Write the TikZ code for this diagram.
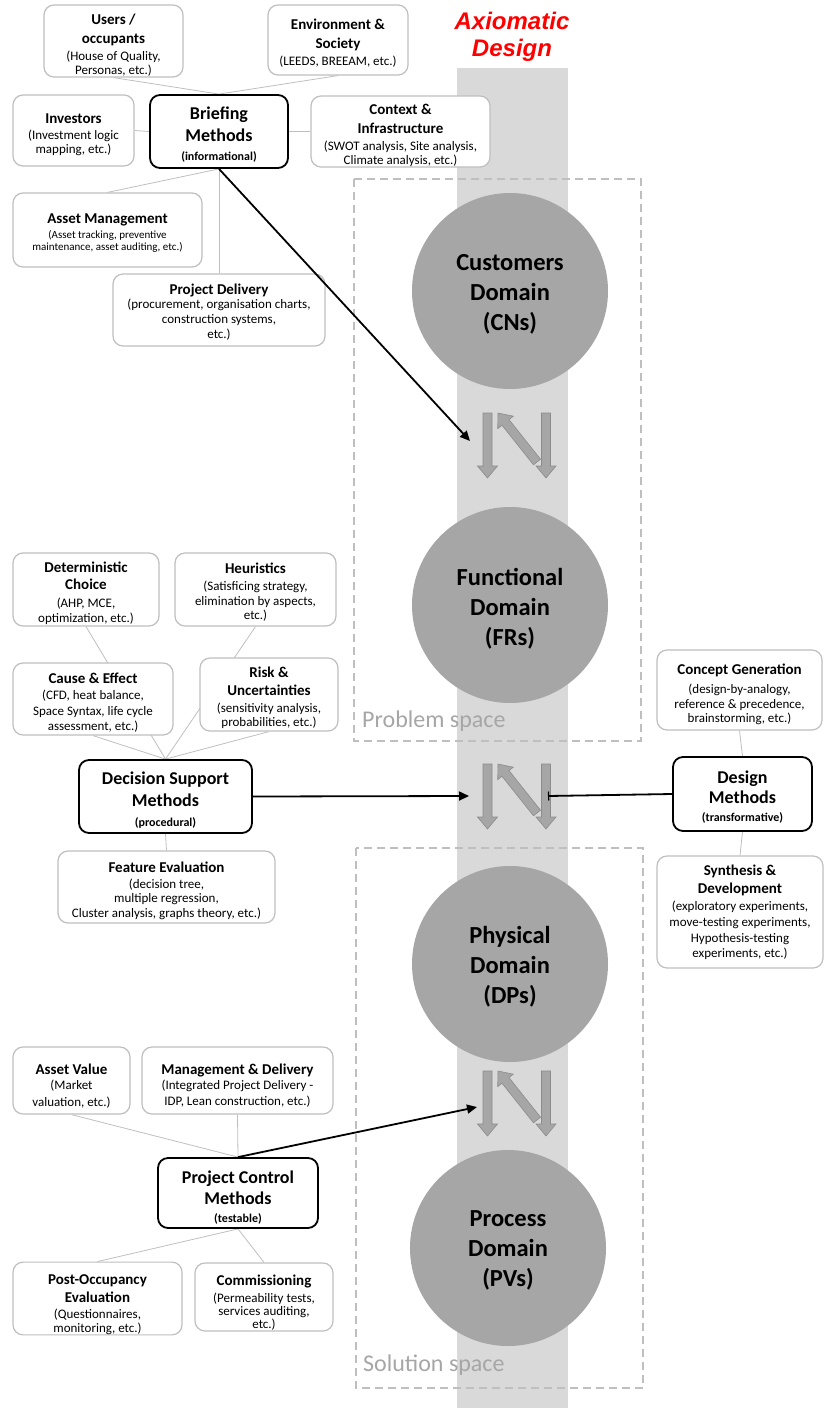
\documentclass[tikz,border=0pt]{standalone}
\usepackage{fontspec}
\setmainfont{Carlito}
\newfontfamily\arialfont{Liberation Sans}
\usetikzlibrary{arrows.meta,calc}
\definecolor{boxgray}{HTML}{BFBFBF}
\definecolor{bandgray}{HTML}{D9D9D9}
\definecolor{circgray}{HTML}{A6A6A6}
\definecolor{arrfill}{HTML}{A6A6A6}
\definecolor{arrdraw}{HTML}{8C8C8C}
\definecolor{spacetxt}{HTML}{A6A6A6}
\definecolor{axred}{HTML}{FF0000}
\pgfdeclarelayer{back}\pgfdeclarelayer{mid}\pgfsetlayers{back,mid,main}
\newcommand\ttl[1]{{\fontsize{15}{19}\selectfont\bfseries #1}}
\newcommand\smalltxt[1]{{\fontsize{11}{12}\selectfont #1}}
\newcommand\msub[1]{{\fontsize{12}{14}\selectfont\bfseries #1}}
\newcommand\up[1]{\rule{0pt}{#1pt}}
\newcommand\blockarr[4]{%
  \begin{scope}[shift={(#1,#2)},rotate=#3]
    \filldraw[fill=arrfill,draw=arrdraw,line width=0.6pt]
      (0,-4.5) -- (#4-12,-4.5) -- (#4-12,-10) -- (#4,0) -- (#4-12,10) -- (#4-12,4.5) -- (0,4.5) -- cycle;
  \end{scope}}
\newcommand\arrgroup[1]{%
  \blockarr{487.5}{#1}{-90}{65}
  \blockarr{546}{#1}{-90}{65}
  \blockarr{537}{#1+49}{128.5}{62.6}}
\tikzset{
  sbox/.style={draw=boxgray, line width=1.2pt, rounded corners=10pt, fill=white, align=center, inner sep=0pt,
    font=\fontsize{13}{14}\selectfont},
  mbox/.style={draw=black, line width=1.8pt, rounded corners=10pt, fill=white, align=center, inner sep=0pt,
    font=\fontsize{18}{22}\selectfont\bfseries},
  dom/.style={circle, fill=circgray, minimum size=196pt, inner sep=0pt, align=center,
    font=\fontsize{24.5}{30}\selectfont\bfseries},
  conn/.style={draw=boxgray, line width=0.8pt},
  bigarr/.style={draw=black, line width=1.8pt, -{Triangle[length=10pt,width=9pt]}},
  bigbar/.style={draw=black, line width=1.8pt, -{Bar[width=9pt,line width=1.2pt]}},
  spacelbl/.style={anchor=west, inner sep=0pt, text=spacetxt, font=\fontsize{24}{28}\selectfont},
}
\begin{document}
\lineskiplimit=-100pt\relax
\begin{tikzpicture}[x=1pt,y=-1pt]
\useasboundingbox (0,0) rectangle (823,1408);

\begin{pgfonlayer}{back}
  \fill[bandgray] (457,68) rectangle (568,1408);
  \draw[boxgray, line width=1.5pt, dash pattern=on 8pt off 5pt] (354,179) rectangle (641,741);
  \draw[boxgray, line width=1.5pt, dash pattern=on 8pt off 5pt] (356,848) rectangle (643,1388);
  \arrgroup{413}
  \arrgroup{764}
  \arrgroup{1071}
\end{pgfonlayer}

% title
\node[text=axred, align=center, inner sep=0pt, font=\arialfont\bfseries\itshape\fontsize{24}{27}\selectfont] (axd) at (512,37) {Axiomatic\\Design};

% domains
\node[dom] (cn) at (510,291) {\up{23.5}Customers\\Domain\\(CNs)};
\node[dom] (fr) at (510,605) {\up{25}Functional\\Domain\\(FRs)};
\node[dom] (dp) at (510,964) {\up{23}Physical\\Domain\\(DPs)};
\node[dom] (pv) at (508,1248) {\up{21.5}Process\\Domain\\(PVs)};

\node[spacelbl] (ps) at (362,721) {Problem space};
\node[spacelbl] (ss) at (363,1365) {Solution space};

% briefing cluster
\node[sbox, minimum width=139pt, minimum height=72pt] (users) at (113.5,41)
  {\ttl{\up{18.5}Users /}\\[5pt]\ttl{occupants}\\[3pt](House of Quality,\\Personas, etc.)};
\node[sbox, minimum width=140pt, minimum height=70pt] (env) at (338,40)
  {\ttl{\up{16.5}Environment \&}\\[5pt]\ttl{Society}\\[3pt](LEEDS, BREEAM, etc.)};
\node[sbox, minimum width=121pt, minimum height=71pt] (inv) at (73.5,130.5)
  {\ttl{\up{18.5}Investors}\\[2pt](Investment logic\\mapping, etc.)};
\node[mbox, minimum width=138pt, minimum height=73pt] (brief) at (219,131.5)
  {\up{18.6}Briefing\\Methods\\[-3pt]\msub{(informational)}};
\node[sbox, minimum width=179pt, minimum height=71pt] (ctx) at (400.5,131.5)
  {\ttl{\up{18.5}Context \&}\\[5pt]\ttl{Infrastructure}\\[3pt](SWOT analysis, Site analysis,\\Climate analysis, etc.)};
\node[sbox, minimum width=189pt, minimum height=74pt] (am) at (107.5,230)
  {\ttl{\up{16.5}Asset Management}\\[1pt]\smalltxt{(Asset tracking, preventive}\\[-2pt]\smalltxt{maintenance, asset auditing, etc.)}};
\node[sbox, minimum width=212pt, minimum height=72pt] (pd) at (219,310)
  {\ttl{\up{14.5}Project Delivery}\\(procurement, organisation charts,\\[1.5pt]construction systems,\\[1pt]etc.)};

% decision support cluster
\node[sbox, minimum width=146pt, minimum height=73pt] (detc) at (86,589.5)
  {\ttl{\up{18.5}Deterministic}\\[3pt]\ttl{Choice}\\[4pt](AHP, MCE,\\[1pt]optimization, etc.)};
\node[sbox, minimum width=161pt, minimum height=73pt] (heur) at (255.5,589.5)
  {\ttl{\up{16.5}Heuristics}\\[3pt](Satisficing strategy,\\[1pt]elimination by aspects,\\etc.)};
\node[sbox, minimum width=160pt, minimum height=72pt] (ce) at (93,699)
  {\ttl{\up{18.5}Cause \& Effect}\\[2pt](CFD, heat balance,\\[2pt]Space Syntax, life cycle\\[1pt]assessment, etc.)};
\node[sbox, minimum width=138pt, minimum height=73pt] (risk) at (269,694.5)
  {\ttl{\up{16.5}Risk \&}\\[4pt]\ttl{Uncertainties}\\[3pt](sensitivity analysis,\\probabilities, etc.)};
\node[mbox, minimum width=173pt, minimum height=73pt] (dsm) at (165.5,796.5)
  {\up{20.6}Decision Support\\Methods\\[-2pt]\msub{(procedural)}};
\node[sbox, minimum width=217pt, minimum height=72pt] (fe) at (166.5,887)
  {\ttl{\up{18.5}Feature Evaluation}\\[2pt](decision tree,\\multiple regression,\\[1pt]Cluster analysis, graphs theory, etc.)};

% design cluster
\node[sbox, minimum width=165pt, minimum height=80pt] (cg) at (739.5,690)
  {\ttl{\up{18.5}Concept Generation}\\[5pt](design-by-analogy,\\[1pt]reference \& precedence,\\brainstorming,  etc.)};
\node[mbox, minimum width=139pt, minimum height=74pt] (dm) at (742.5,794)
  {\up{18.6}Design\\[-2pt]Methods\\[-4pt]\msub{(transformative)}};
\node[sbox, minimum width=166pt, minimum height=112pt] (sd) at (740,912)
  {\ttl{Synthesis \&}\\[4pt]\ttl{Development}\\[3pt](exploratory experiments,\\[2pt]move-testing experiments,\\[2pt]Hypothesis-testing\\[1pt]experiments, etc.)};

% project control cluster
\node[sbox, minimum width=117pt, minimum height=67pt] (av) at (71.5,1080.5)
  {\ttl{\up{22.5}Asset Value}\\[1pt](Market\\[3pt]valuation, etc.)};
\node[sbox, minimum width=191pt, minimum height=67pt] (md) at (237.5,1080.5)
  {\ttl{\up{20.5}Management \& Delivery}\\[1pt](Integrated Project Delivery -\\[2pt]IDP, Lean construction, etc.)};
\node[mbox, minimum width=160pt, minimum height=70pt] (pcm) at (238,1193)
  {\up{22.6}Project Control\\[-1pt]Methods\\[-4pt]\msub{(testable)}};
\node[sbox, minimum width=169pt, minimum height=69pt] (poe) at (97.5,1298.5)
  {\ttl{\up{22.5}Post-Occupancy}\\[4pt]\ttl{Evaluation}\\[2pt](Questionnaires,\\monitoring, etc.)};
\node[sbox, minimum width=138pt, minimum height=68pt] (com) at (264,1297)
  {\ttl{\up{22.5}Commissioning}\\[3pt](Permeability tests,\\[-1pt]services auditing,\\[-1pt]etc.)};

% thin connectors
\begin{pgfonlayer}{mid}
  \draw[conn] (users.south) -- (brief.north);
  \draw[conn] (env.south) -- (brief.north);
  \draw[conn] (inv.east) -- (brief.west);
  \draw[conn] (brief.east) -- (ctx.west);
  \draw[conn] (brief.south) -- (am.north);
  \draw[conn] (brief.south) -- (pd.north);
  \draw[conn] (detc.south) -- (dsm.north);
  \draw[conn] (heur.south) -- (dsm.north);
  \draw[conn] (ce.south) -- (dsm.north);
  \draw[conn] (risk.south) -- (dsm.north);
  \draw[conn] (dsm.south) -- (fe.north);
  \draw[conn] (cg.south) -- (dm.north);
  \draw[conn] (dm.south) -- (sd.north);
  \draw[conn] (av.south) -- (pcm.north);
  \draw[conn] (md.south) -- (pcm.north);
  \draw[conn] (pcm.south) -- (poe.north);
  \draw[conn] (pcm.south) -- (com.north);
\end{pgfonlayer}

% thick arrows
\coordinate (t1) at (470,441);
\coordinate (t2) at (469,796);
\coordinate (t3) at (548,796);
\coordinate (t4) at (477,1107);
\draw[bigarr] (brief.south) -- (t1);
\draw[bigarr] (dsm.east) -- (t2);
\draw[bigbar] (dm.west) -- (t3);
\draw[bigarr] (pcm.north) -- (t4);
\end{tikzpicture}
\end{document}
